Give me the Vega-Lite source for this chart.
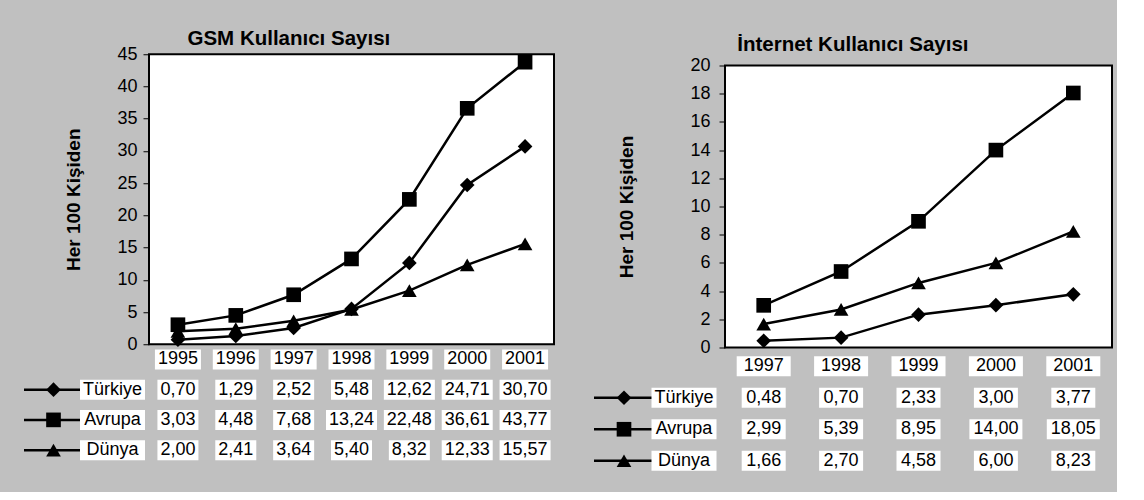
{
  "$schema": "https://vega.github.io/schema/vega-lite/v6.json",
  "padding": {"left": 22, "top": 28, "right": 4, "bottom": 4},
  "background": "#c0c0c0",
  "config": {
    "font": "Liberation Sans",
    "view": {"stroke": null},
    "locale": {"number": {"decimal": ",", "thousands": ".", "grouping": [3], "currency": ["", ""]}},
    "axis": {"labelColor": "black", "titleColor": "black", "labelFontSize": 18, "titleFontSize": 19, "titleFontWeight": "bold", "tickColor": "black"},
    "title": {"color": "black", "fontSize": 20.5, "fontWeight": "bold"}
  },
  "datasets": {
    "seriesList": [{"series": "Türkiye"}, {"series": "Avrupa"}, {"series": "Dünya"}],
    "gsmYears": [{"year": 1995}, {"year": 1996}, {"year": 1997}, {"year": 1998}, {"year": 1999}, {"year": 2000}, {"year": 2001}],
    "internetYears": [{"year": 1997}, {"year": 1998}, {"year": 1999}, {"year": 2000}, {"year": 2001}],
    "gsm": [
      {"series": "Türkiye", "year": 1995, "value": 0.70},
      {"series": "Türkiye", "year": 1996, "value": 1.29},
      {"series": "Türkiye", "year": 1997, "value": 2.52},
      {"series": "Türkiye", "year": 1998, "value": 5.48},
      {"series": "Türkiye", "year": 1999, "value": 12.62},
      {"series": "Türkiye", "year": 2000, "value": 24.71},
      {"series": "Türkiye", "year": 2001, "value": 30.70},
      {"series": "Avrupa", "year": 1995, "value": 3.03},
      {"series": "Avrupa", "year": 1996, "value": 4.48},
      {"series": "Avrupa", "year": 1997, "value": 7.68},
      {"series": "Avrupa", "year": 1998, "value": 13.24},
      {"series": "Avrupa", "year": 1999, "value": 22.48},
      {"series": "Avrupa", "year": 2000, "value": 36.61},
      {"series": "Avrupa", "year": 2001, "value": 43.77},
      {"series": "Dünya", "year": 1995, "value": 2.00},
      {"series": "Dünya", "year": 1996, "value": 2.41},
      {"series": "Dünya", "year": 1997, "value": 3.64},
      {"series": "Dünya", "year": 1998, "value": 5.40},
      {"series": "Dünya", "year": 1999, "value": 8.32},
      {"series": "Dünya", "year": 2000, "value": 12.33},
      {"series": "Dünya", "year": 2001, "value": 15.57}
    ],
    "internet": [
      {"series": "Türkiye", "year": 1997, "value": 0.48},
      {"series": "Türkiye", "year": 1998, "value": 0.70},
      {"series": "Türkiye", "year": 1999, "value": 2.33},
      {"series": "Türkiye", "year": 2000, "value": 3.00},
      {"series": "Türkiye", "year": 2001, "value": 3.77},
      {"series": "Avrupa", "year": 1997, "value": 2.99},
      {"series": "Avrupa", "year": 1998, "value": 5.39},
      {"series": "Avrupa", "year": 1999, "value": 8.95},
      {"series": "Avrupa", "year": 2000, "value": 14.00},
      {"series": "Avrupa", "year": 2001, "value": 18.05},
      {"series": "Dünya", "year": 1997, "value": 1.66},
      {"series": "Dünya", "year": 1998, "value": 2.70},
      {"series": "Dünya", "year": 1999, "value": 4.58},
      {"series": "Dünya", "year": 2000, "value": 6.00},
      {"series": "Dünya", "year": 2001, "value": 8.23}
    ]
  },
  "spacing": 37,
  "center": true,
  "hconcat": [
    {
      "title": {"text": "GSM Kullanıcı Sayısı", "anchor": "middle", "offset": -5},
      "columns": 2,
      "bounds": "flush",
      "spacing": {"column": 7, "row": 0},
      "concat": [
        {"width": 118, "height": 290, "data": {"values": []}, "mark": {"type": "point", "opacity": 0}},
        {
          "width": 405, "height": 290,
          "data": {"name": "gsm"},
          "view": {"fill": "white", "stroke": "black", "strokeWidth": 2},
          "encoding": {
            "x": {"field": "year", "type": "ordinal", "scale": {"type": "point", "padding": 0.5}, "axis": null},
            "y": {"field": "value", "type": "quantitative", "scale": {"domain": [0, 45], "nice": false},
                  "axis": {"title": "Her 100 Kişiden", "values": [0, 5, 10, 15, 20, 25, 30, 35, 40, 45], "grid": false, "domain": false, "tickSize": 6, "labelPadding": 6, "titlePadding": 33}}
          },
          "layer": [
            {"mark": {"type": "line", "color": "black", "strokeWidth": 2.5}, "encoding": {"detail": {"field": "series"}}},
            {"mark": {"type": "point", "filled": true, "color": "black", "opacity": 1, "size": 215},
             "encoding": {"shape": {"field": "series", "type": "nominal", "scale": {"domain": ["Türkiye", "Avrupa", "Dünya"], "range": ["diamond", "square", "triangle-up"]}, "legend": null}}}
          ]
        },
        {
          "width": 118, "height": 121,
          "data": {"name": "seriesList"},
          "encoding": {"y": {"field": "series", "type": "nominal", "scale": {"type": "point", "padding": 0.5, "domain": ["hdr", "Türkiye", "Avrupa", "Dünya"]}, "axis": null}},
          "layer": [
            {"mark": {"type": "rule", "color": "black", "strokeWidth": 2.5}, "encoding": {}},
            {"mark": {"type": "point", "filled": true, "color": "black", "opacity": 1, "size": 215},
             "encoding": {"x": {"datum": "g", "type": "nominal", "scale": {"type": "point", "padding": 0.5, "domain": ["g", "l"]}, "axis": null},
                          "shape": {"field": "series", "type": "nominal", "scale": {"domain": ["Türkiye", "Avrupa", "Dünya"], "range": ["diamond", "square", "triangle-up"]}, "legend": null}}},
            {"mark": {"type": "point", "filled": true, "color": "white", "opacity": 1, "size": 400, "shape": "M-3.25,-1H3.25V1H-3.25Z"},
             "encoding": {"x": {"datum": "l", "type": "nominal"}}},
            {"mark": {"type": "text", "fontSize": 18, "color": "black"},
             "encoding": {"x": {"datum": "l", "type": "nominal"}, "text": {"field": "series", "type": "nominal"}}}
          ]
        },
        {
          "width": 405, "height": 121,
          "encoding": {
            "x": {"field": "year", "type": "ordinal", "scale": {"type": "point", "padding": 0.5},
                  "axis": {"title": null, "labels": false, "domain": false, "ticks": true, "tickSize": 22, "tickColor": "transparent"}},
            "y": {"field": "series", "type": "nominal", "scale": {"type": "point", "padding": 0.5, "domain": ["hdr", "Türkiye", "Avrupa", "Dünya"]}, "axis": null}
          },
          "layer": [
            {"data": {"name": "gsmYears"},
             "mark": {"type": "point", "filled": true, "color": "white", "opacity": 1, "size": 400, "shape": "M-2.3,-1H2.3V1H-2.3Z"},
             "encoding": {"y": {"datum": "hdr"}}},
            {"data": {"name": "gsmYears"},
             "mark": {"type": "text", "fontSize": 18, "color": "black"},
             "encoding": {"y": {"datum": "hdr"}, "text": {"field": "year", "type": "nominal"}}},
            {"data": {"name": "gsm"},
             "mark": {"type": "point", "filled": true, "color": "white", "opacity": 1, "size": 400},
             "encoding": {"shape": {"condition": {"test": "datum.value >= 10", "value": "M-2.55,-1H2.55V1H-2.55Z"}, "value": "M-2.05,-1H2.05V1H-2.05Z"}}},
            {"data": {"name": "gsm"},
             "mark": {"type": "text", "fontSize": 18, "color": "black"},
             "encoding": {"text": {"field": "value", "type": "quantitative", "format": ".2f"}}}
          ]
        }
      ]
    },
    {
      "title": {"text": "İnternet Kullanıcı Sayısı", "anchor": "middle", "offset": 0},
      "columns": 2,
      "bounds": "flush",
      "spacing": {"column": 11, "row": 3},
      "concat": [
        {"width": 120, "height": 282, "data": {"values": []}, "mark": {"type": "point", "opacity": 0}},
        {
          "width": 387, "height": 282,
          "data": {"name": "internet"},
          "view": {"fill": "white", "stroke": "black", "strokeWidth": 2},
          "encoding": {
            "x": {"field": "year", "type": "ordinal", "scale": {"type": "point", "padding": 0.5}, "axis": null},
            "y": {"field": "value", "type": "quantitative", "scale": {"domain": [0, 20], "nice": false},
                  "axis": {"title": "Her 100 Kişiden", "values": [0, 2, 4, 6, 8, 10, 12, 14, 16, 18, 20], "grid": false, "domain": false, "tickSize": 6, "labelPadding": 9, "titlePadding": 53}}
          },
          "layer": [
            {"mark": {"type": "line", "color": "black", "strokeWidth": 2.5}, "encoding": {"detail": {"field": "series"}}},
            {"mark": {"type": "point", "filled": true, "color": "black", "opacity": 1, "size": 215},
             "encoding": {"shape": {"field": "series", "type": "nominal", "scale": {"domain": ["Türkiye", "Avrupa", "Dünya"], "range": ["diamond", "square", "triangle-up"]}, "legend": null}}}
          ]
        },
        {
          "width": 120, "height": 126,
          "data": {"name": "seriesList"},
          "encoding": {"y": {"field": "series", "type": "nominal", "scale": {"type": "point", "padding": 0.5, "domain": ["hdr", "Türkiye", "Avrupa", "Dünya"]}, "axis": null}},
          "layer": [
            {"mark": {"type": "rule", "color": "black", "strokeWidth": 2.5}, "encoding": {}},
            {"mark": {"type": "point", "filled": true, "color": "black", "opacity": 1, "size": 215},
             "encoding": {"x": {"datum": "g", "type": "nominal", "scale": {"type": "point", "padding": 0.5, "domain": ["g", "l"]}, "axis": null},
                          "shape": {"field": "series", "type": "nominal", "scale": {"domain": ["Türkiye", "Avrupa", "Dünya"], "range": ["diamond", "square", "triangle-up"]}, "legend": null}}},
            {"mark": {"type": "point", "filled": true, "color": "white", "opacity": 1, "size": 400, "shape": "M-3.25,-1H3.25V1H-3.25Z"},
             "encoding": {"x": {"datum": "l", "type": "nominal"}}},
            {"mark": {"type": "text", "fontSize": 18, "color": "black"},
             "encoding": {"x": {"datum": "l", "type": "nominal"}, "text": {"field": "series", "type": "nominal"}}}
          ]
        },
        {
          "width": 387, "height": 126,
          "encoding": {
            "x": {"field": "year", "type": "ordinal", "scale": {"type": "point", "padding": 0.5}, "axis": null},
            "y": {"field": "series", "type": "nominal", "scale": {"type": "point", "padding": 0.5, "domain": ["hdr", "Türkiye", "Avrupa", "Dünya"]}, "axis": null}
          },
          "layer": [
            {"data": {"name": "internetYears"},
             "mark": {"type": "point", "filled": true, "color": "white", "opacity": 1, "size": 400, "shape": "M-2.7,-1H2.7V1H-2.7Z"},
             "encoding": {"y": {"datum": "hdr"}}},
            {"data": {"name": "internetYears"},
             "mark": {"type": "text", "fontSize": 18, "color": "black"},
             "encoding": {"y": {"datum": "hdr"}, "text": {"field": "year", "type": "nominal"}}},
            {"data": {"name": "internet"},
             "mark": {"type": "point", "filled": true, "color": "white", "opacity": 1, "size": 400},
             "encoding": {"shape": {"condition": {"test": "datum.value >= 10", "value": "M-2.65,-1H2.65V1H-2.65Z"}, "value": "M-2.2,-1H2.2V1H-2.2Z"}}},
            {"data": {"name": "internet"},
             "mark": {"type": "text", "fontSize": 18, "color": "black"},
             "encoding": {"text": {"field": "value", "type": "quantitative", "format": ".2f"}}}
          ]
        }
      ]
    }
  ]
}
